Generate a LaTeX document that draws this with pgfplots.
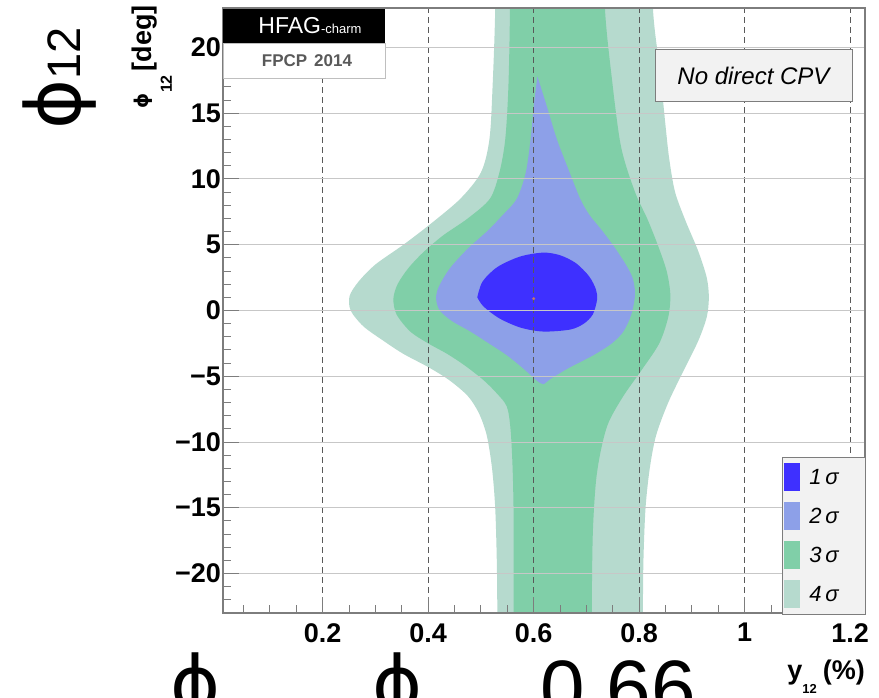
\documentclass[border=0pt]{standalone}
\usepackage{pgfplots}
\pgfplotsset{compat=1.18}
\usepackage{fontspec}
\setmainfont{Liberation Sans}
\newfontfamily\dejavu{DejaVu Sans}
\definecolor{sigA}{RGB}{62,48,255}
\definecolor{sigB}{RGB}{141,160,232}
\definecolor{sigC}{RGB}{128,207,168}
\definecolor{sigD}{RGB}{182,218,206}
\definecolor{frm}{RGB}{125,125,125}
\begin{document}
\begin{tikzpicture}
\begin{axis}[
  at={(223pt,84pt)}, anchor=south west,
  scale only axis, width=642pt, height=605pt,
  xmin=0.011, xmax=1.228, ymin=-23, ymax=23,
  xtick={0.2,0.4,0.6,0.8,1.0,1.2},
  xticklabels={0.2,0.4,0.6,0.8,1,1.2},
  ytick={-20,-15,-10,-5,0,5,10,15,20},
  yticklabels={−20,−15,−10,−5,0,5,10,15,20},
  minor xtick={0.05,0.1,0.15,0.25,0.3,0.35,0.45,0.5,0.55,0.65,0.7,0.75,0.85,0.9,0.95,1.05,1.1,1.15},
  minor ytick={-22,-21,...,22},
  tick pos=left,
  tick align=inside,
  major tick length=16pt, minor tick length=8pt,
  tick style={frm, line width=1pt},
  axis line style={frm, line width=1.3pt},
  xmajorgrids, ymajorgrids,
  x grid style={black!65, line width=0.8pt, dash pattern=on 6pt off 4pt},
  y grid style={black!22, line width=1pt},
  axis on top,
  ticklabel style={font=\bfseries\fontsize{27}{27}\selectfont},
  yticklabel style={inner sep=2pt},
  xticklabel style={inner sep=0pt, yshift=-10pt},
  xlabel={\bfseries y\raisebox{-14pt}{\fontsize{13}{13}\selectfont 12}\hspace{6pt}(\%)},
  xlabel style={at={(axis description cs:1.0,-0.1107)}, anchor=base east, inner sep=0pt, font=\bfseries\fontsize{27}{27}\selectfont},
  ylabel={{\dejavu\fontsize{19}{19}\selectfont\raisebox{3pt}{ϕ}}\raisebox{-20pt}{\fontsize{16}{16}\selectfont 12}\hspace{4pt}[deg]},
  ylabel style={at={(axis description cs:-0.1106,1.005)}, anchor=base east, inner sep=0pt, font=\bfseries\fontsize{27}{27}\selectfont},
  reverse legend,
  legend cell align=left,
  legend image code/.code={\fill[#1] (0pt,-14pt) rectangle (16pt,14pt);},
  legend style={at={(axis description cs:1.0015,-0.0033)}, anchor=south east, fill=black!5, draw=frm, line width=1pt, inner xsep=2pt, inner ysep=6pt, row sep=11pt, font=\itshape\fontsize{22}{22}\selectfont, nodes={inner sep=0pt}},
]
% 4 sigma
\addplot[fill=sigD, draw=none, smooth] coordinates {
(0.527,30) (0.527,23) (0.522,17) (0.516,13) (0.500,10.5) (0.461,8.5) (0.405,6.6) (0.353,5.0) (0.300,3.5) (0.268,2.2) (0.251,1.1) (0.253,0.0) (0.277,-1.2) (0.315,-2.3) (0.353,-3.3) (0.400,-4.3) (0.440,-5.3) (0.475,-6.5) (0.496,-7.8) (0.511,-9.5) (0.521,-12) (0.527,-15) (0.530,-19) (0.531,-23) (0.531,-30)
(0.807,-30) (0.807,-23) (0.808,-19) (0.812,-15) (0.820,-12) (0.832,-9.5) (0.855,-7.0) (0.885,-4.5) (0.912,-2.3) (0.928,-0.5) (0.932,1.0) (0.928,2.5) (0.912,4.5) (0.888,6.8) (0.868,9.0) (0.857,11.5) (0.850,14) (0.840,18) (0.826,23) (0.826,30)
} -- cycle;
\addlegendentry{\makebox[63pt][l]{\hspace{9pt}4\,σ}}
% 3 sigma
\addplot[fill=sigC, draw=none, smooth] coordinates {
(0.555,30) (0.555,23) (0.552,17) (0.546,13) (0.535,10.5) (0.517,8.5) (0.475,7.0) (0.428,5.7) (0.390,4.4) (0.362,3.2) (0.342,2.0) (0.334,0.9) (0.340,-0.3) (0.366,-1.6) (0.400,-2.5) (0.436,-3.3) (0.470,-4.2) (0.505,-5.3) (0.530,-6.3) (0.549,-7.3) (0.556,-9.0) (0.560,-12) (0.562,-16) (0.562,-23) (0.562,-30)
(0.710,-30) (0.710,-23) (0.712,-17) (0.718,-13) (0.728,-10.5) (0.742,-8.5) (0.770,-6.5) (0.805,-4.5) (0.838,-2.5) (0.855,-0.5) (0.859,1.2) (0.852,3.0) (0.835,5.0) (0.815,7.0) (0.795,8.7) (0.775,11) (0.763,13) (0.750,17) (0.735,23) (0.735,30)
} -- cycle;
\addlegendentry{\makebox[63pt][l]{\hspace{9pt}3\,σ}}
% 2 sigma
\addplot[fill=sigB, draw=none, smooth] coordinates {
(0.607,17.8) (0.600,15.5) (0.594,13) (0.585,10.5) (0.568,8.5) (0.540,7.2) (0.511,6.0) (0.475,4.7) (0.441,3.2) (0.420,1.8) (0.415,0.9) (0.422,0.0) (0.445,-0.8) (0.480,-1.6) (0.515,-2.5) (0.549,-3.4) (0.580,-4.4) (0.605,-5.3) (0.618,-5.6) (0.632,-5.2) (0.665,-4.4) (0.713,-3.4) (0.748,-2.5) (0.770,-1.6) (0.785,-0.3) (0.792,1.2) (0.788,2.4) (0.776,3.4) (0.755,4.7) (0.731,6.0) (0.705,7.3) (0.688,8.5) (0.668,10.5) (0.644,13) (0.625,15.5) (0.607,17.8)
} -- cycle;
\addlegendentry{\makebox[63pt][l]{\hspace{9pt}2\,σ}}
% 1 sigma
\addplot[fill=sigA, draw=none, smooth] coordinates {
(0.493,1.0) (0.503,2.2) (0.531,3.3) (0.574,4.1) (0.618,4.4) (0.650,4.2) (0.680,3.6) (0.705,2.6) (0.718,1.6) (0.720,0.8) (0.712,-0.3) (0.695,-1.0) (0.669,-1.45) (0.618,-1.6) (0.575,-1.3) (0.535,-0.6) (0.505,0.3) (0.493,1.0)
} -- cycle;
\addlegendentry{\makebox[63pt][l]{\hspace{9pt}1\,σ}}
% best fit point
\addplot[forget plot, only marks, mark=*, mark size=1.3pt, color={rgb,255:red,190;green,120;blue,110}] coordinates {(0.60,0.9)};
\end{axis}
% HFAG logo
\fill[black] (223pt,654pt) rectangle (385pt,688pt);
\node[white, inner sep=0pt, font=\fontsize{23}{23}\selectfont] at (310pt,671pt) {HFAG{\fontsize{13}{13}\selectfont -charm}};
\filldraw[draw=black!25, fill=white, line width=0.8pt] (223pt,619pt) rectangle (385pt,654pt);
\node[black!65, inner sep=0pt, font=\bfseries\fontsize{17}{17}\selectfont] at (307pt,636pt) {FPCP\hspace{7pt}2014};
% No direct CPV
\node[draw=frm, fill=black!5, line width=1pt, minimum width=197pt, minimum height=52pt, inner sep=0pt, font=\itshape\fontsize{24}{24}\selectfont] at (753.5pt,621pt) {No direct CPV};
% slide text
\node[rotate=90, anchor=base west, inner sep=0pt, font=\fontsize{47}{47}\selectfont] at (80pt,567pt) {{\dejavu\fontsize{76}{76}\selectfont ϕ}12};
\node[anchor=base, inner sep=0pt, font=\dejavu\fontsize{76}{76}\selectfont] at (196pt,-13pt) {ϕ};
\node[anchor=base, inner sep=0pt, font=\dejavu\fontsize{76}{76}\selectfont] at (398pt,-13pt) {ϕ};
\node[anchor=base west, inner sep=0pt, font=\fontsize{80}{80}\selectfont] at (540pt,-19pt) {0.66};
\pgfresetboundingbox
\useasboundingbox (0pt,0pt) rectangle (879pt,697pt);
\end{tikzpicture}
\end{document}
